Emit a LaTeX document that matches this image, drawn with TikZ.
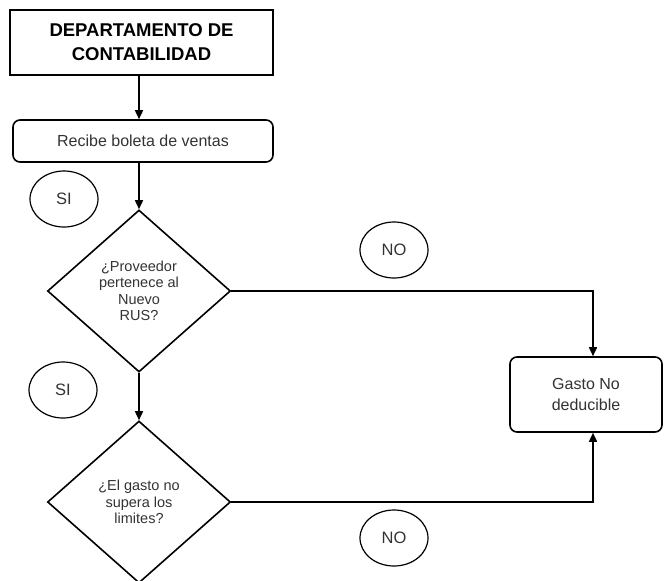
\documentclass[tikz,border=0pt]{standalone}
\usepackage{fontspec}
\setmainfont{Liberation Sans}
\usetikzlibrary{shapes.geometric,arrows.meta}
\begin{document}
\begin{tikzpicture}[x=1pt, y=-1pt, line width=1.6pt,
        titulo/.style={draw=black, minimum width=263pt, minimum height=65pt, align=center, font=\fontsize{18.5}{24}\selectfont\bfseries},
        proceso/.style={draw=black, rounded corners=7pt, align=center, text=black!80, font=\fontsize{16}{21}\selectfont},
        decision/.style={diamond, draw=black, inner sep=0pt, minimum width=183pt, minimum height=162pt, align=center, text=black!80, font=\fontsize{14.5}{16.5}\selectfont},
        etiqueta/.style={ellipse, draw=black, line width=1.2pt, minimum width=68pt, minimum height=56pt, text=black!80, font=\fontsize{16.5}{20}\selectfont},
        flecha/.style={-{Triangle[length=9pt,width=8pt]}}]
    \useasboundingbox (0,0) rectangle (664,581);
    \node[titulo] (depto) at (141.5,42.5) {DEPARTAMENTO DE\\CONTABILIDAD};
    \node[proceso, minimum width=260pt, minimum height=42pt] (recibe) at (143,141) {Recibe boleta de ventas};
    \node[decision] (rus) at (139,291) {¿Proveedor\\pertenece al\\Nuevo\\RUS?};
    \node[decision] (gasto) at (139,502) {¿El gasto no\\supera los\\limites?};
    \node[proceso, minimum width=152pt, minimum height=75pt] (nodeduc) at (586,394.5) {Gasto No\\deducible};
    \foreach \n/\t/\x/\y in {si1/SI/64/199, si2/SI/63/390, no1/NO/394/250, no2/NO/394/538}
        \node[etiqueta] (\n) at (\x,\y) {\t};
    \coordinate (codo1) at (593,291);
    \coordinate (codo2) at (593,502);
    \draw[flecha] (depto.south -| rus.north) -- (recibe.north -| rus.north);
    \draw[flecha] (recibe.south -| rus.north) -- (rus.north);
    \draw[flecha] (rus.south) -- (gasto.north);
    \draw[flecha] (rus.east) -- (codo1) -- (codo1 |- nodeduc.north);
    \draw[flecha] (gasto.east) -- (codo2) -- (codo2 |- nodeduc.south);
\end{tikzpicture}
\end{document}
